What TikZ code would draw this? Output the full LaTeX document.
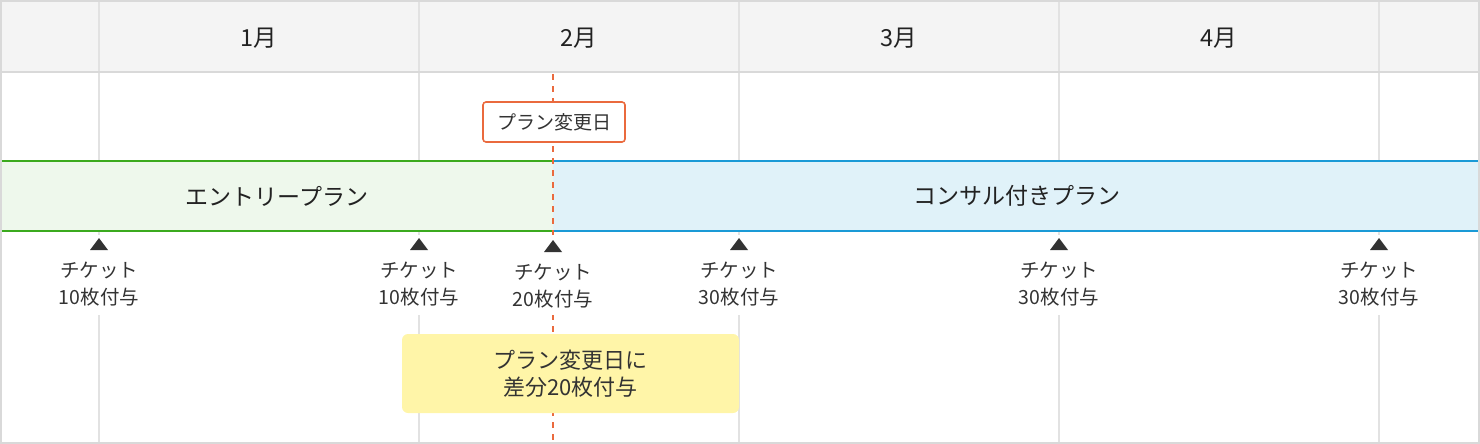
\documentclass[tikz,border=0pt]{standalone}
\usepackage{fontspec}
\setmainfont{Noto Sans CJK JP}
\definecolor{gridc}{HTML}{E2E2E2}
\definecolor{framec}{HTML}{D9D9D9}
\definecolor{headc}{HTML}{F4F4F4}
\definecolor{orangec}{HTML}{EA6A3E}
\definecolor{greenc}{HTML}{3BAA1E}
\definecolor{greenf}{HTML}{EEF8EC}
\definecolor{bluec}{HTML}{1A9AD6}
\definecolor{bluef}{HTML}{E0F2F9}
\definecolor{yellowf}{HTML}{FFF5A8}
\definecolor{textc}{HTML}{222222}
\definecolor{tickc}{HTML}{333333}
\begin{document}
\begin{tikzpicture}[x=1pt,y=-1pt,
  month/.style={font=\fontsize{23.5}{27}\selectfont, text=textc},
  bandtxt/.style={font=\fontsize{23}{27}\selectfont, text=textc},
  ticklbl/.style={font=\fontsize{19.5}{27}\selectfont, text=tickc, align=center, inner sep=0pt},
  tickmask/.style={fill=white, minimum width=92pt, minimum height=80pt, inner sep=0pt},
  tri/.style={fill=tickc},
  grid/.style={draw=gridc, line width=2pt}]
\useasboundingbox (0,0) rectangle (1480,444);
% header
\fill[headc] (0,0) rectangle (1480,72);
% vertical grid
\foreach \x in {99,419,739,1059,1379} \draw[grid] (\x,0) -- (\x,444);
\draw[draw=framec, line width=2pt] (0,72) -- (1480,72);
% month labels
\node[month] (m1) at (259,38) {1月};
\node[month] (m2) at (579,38) {2月};
\node[month] (m3) at (899,38) {3月};
\node[month] (m4) at (1219,38) {4月};
% bands
\fill[greenf] (0,161) rectangle (553,231);
\draw[greenc, line width=2pt] (0,161) -- (553,161) (0,231) -- (553,231);
\fill[bluef] (553,161) rectangle (1480,231);
\draw[bluec, line width=2pt] (553,161) -- (1480,161) (553,231) -- (1480,231);
\node[bandtxt] (entry) at (277,196) {エントリープラン};
\node[bandtxt] (consul) at (1017,196) {コンサル付きプラン};
% dashed change line
\draw[orangec, line width=1.6pt, dash pattern=on 6pt off 6pt] (553,74) -- (553,444);
% ticket masks and labels
\foreach \x/\n/\dy/\nm in {99/10/0/a,419/10/0/b,553/20/2/c,739/30/0/d,1059/30/0/e,1379/30/0/f}{
  \node[tickmask] (mask\nm) at (\x,275) {};
  \fill[tri] (\x-9,250+\dy) -- (\x+9,250+\dy) -- (\x,238+\dy) -- cycle;
  \node[ticklbl] (t\nm) at (\x,284+\dy) {チケット\\\n 枚付与};
}
% plan change date box
\node[draw=orangec, line width=1.6pt, fill=white, rounded corners=3pt,
      minimum width=142pt, minimum height=40pt, inner sep=0pt,
      font=\fontsize{19}{22}\selectfont, text=tickc] (change) at (554,122) {プラン変更日};
% yellow note
\node[fill=yellowf, rounded corners=6pt, minimum width=337pt, minimum height=79pt,
      inner sep=0pt, align=center, font=\fontsize{22}{27}\selectfont, text=tickc] (note) at (570.5,373.5)
      {プラン変更日に\\差分20枚付与};
% frame
\draw[framec, line width=2pt] (1,1) rectangle (1479,443);
\end{tikzpicture}
\end{document}
